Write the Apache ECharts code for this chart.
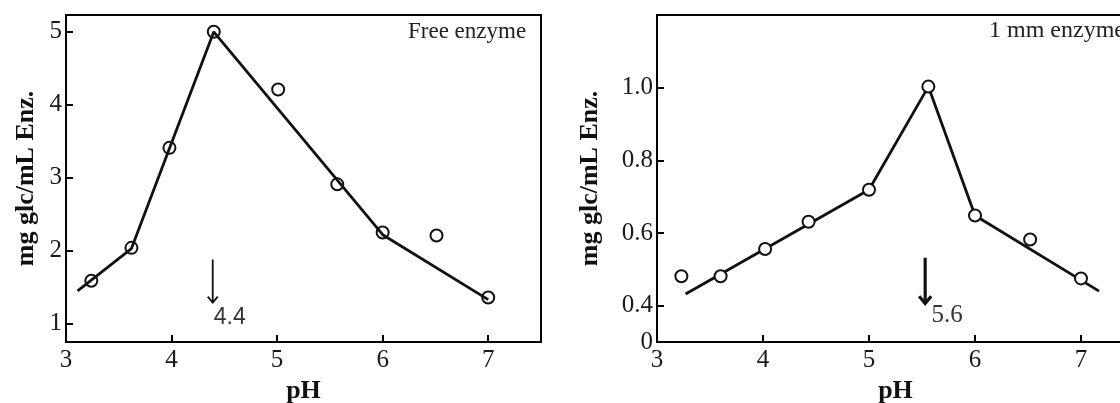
<!DOCTYPE html>
<html>
<head>
<meta charset="utf-8">
<script src="https://cdn.jsdelivr.net/npm/echarts@6/dist/echarts.min.js"></script>
<style>
  html, body { margin: 0; padding: 0; background: #fff; }
  #chart { width: 1120px; height: 403px; }
</style>
</head>
<body>
<div id="chart"></div>
<script>
// free enzyme (left panel)
const freePH = [3.24, 3.62, 3.98, 4.40, 5.01, 5.57, 6.00, 6.51, 7.00];
const freeAct = [1.59, 2.04, 3.41, 5.00, 4.21, 2.91, 2.25, 2.21, 1.36];
const freeFitPH = [3.11, 3.62, 4.40, 6.00, 7.00];
const freeFitAct = [1.45, 2.03, 5.00, 2.22, 1.33];
const freeOptimum = [4.39, 1.88, 1.29, 4.40, 1.08];
const freeOptimumText = '4.4';

// 1 mm immobilised enzyme (right panel)
const immPH = [3.23, 3.60, 4.02, 4.43, 5.00, 5.56, 6.00, 6.52, 7.00];
const immAct = [0.481, 0.481, 0.556, 0.631, 0.719, 1.003, 0.648, 0.582, 0.475];
const immFitPH = [3.27, 5.00, 5.56, 6.00, 7.17];
const immFitAct = [0.432, 0.719, 1.003, 0.648, 0.440];
const immOptimum = [5.53, 0.532, 0.406, 5.59, 0.372];
const immOptimumText = '5.6';

const xTicks = [3, 4, 5, 6, 7];
const freeYTicks = [1, 2, 3, 4, 5];
const immYTicks = [0.4, 0.6, 0.8, 1.0];
const immYLabels = [0.3, 0.4, 0.6, 0.8, 1.0];

const SERIF = '"Liberation Serif", "Times New Roman", serif';
const zip = (a, b) => a.map((v, i) => [v, b[i]]);

function xAxis(idx) {
  return {
    type: 'value', gridIndex: idx, min: 3, max: 7.5,
    name: 'pH', nameLocation: 'middle', nameGap: 34,
    nameTextStyle: { fontFamily: SERIF, fontWeight: 'bold', fontSize: 26, color: '#111' },
    axisLine: { lineStyle: { color: '#000', width: 2 } },
    axisTick: { inside: true, length: 7, lineStyle: { color: '#000', width: 2 }, customValues: xTicks },
    axisLabel: { fontFamily: SERIF, fontSize: 25, color: '#1a1a1a', margin: 6, customValues: xTicks },
    splitLine: { show: false }
  };
}

function yAxis(idx, min, max, ticks, labels, gap, fmt) {
  return {
    type: 'value', gridIndex: idx, min: min, max: max,
    name: 'mg glc/mL Enz.', nameLocation: 'middle', nameGap: gap, nameRotate: 90,
    nameTextStyle: { fontFamily: SERIF, fontWeight: 'bold', fontSize: 26, color: '#111' },
    axisLine: { lineStyle: { color: '#000', width: 2 } },
    axisTick: { inside: true, length: 7, lineStyle: { color: '#000', width: 2 }, customValues: ticks },
    axisLabel: { fontFamily: SERIF, fontSize: 25, color: '#1a1a1a', margin: 4, customValues: labels, formatter: fmt },
    splitLine: { show: false }
  };
}

function arrowSeries(idx, item, text, lw, head, font) {
  return {
    type: 'custom', xAxisIndex: idx, yAxisIndex: idx, z: 5,
    data: [item],
    renderItem: function (params, api) {
      const a = api.coord([api.value(0), api.value(1)]);
      const b = api.coord([api.value(0), api.value(2)]);
      const t = api.coord([api.value(3), api.value(4)]);
      return {
        type: 'group',
        children: [
          { type: 'line', shape: { x1: a[0], y1: a[1], x2: b[0], y2: b[1] },
            style: { stroke: '#111', lineWidth: lw } },
          { type: 'polyline',
            shape: { points: [[b[0] - head, b[1] - head * 1.2], [b[0], b[1]], [b[0] + head, b[1] - head * 1.2]] },
            style: { stroke: '#111', lineWidth: lw, fill: null } },
          { type: 'text', x: t[0], y: t[1],
            style: { text: text, font: font, fill: '#333', align: 'left', verticalAlign: 'middle' } }
        ]
      };
    }
  };
}

const chart = echarts.init(document.getElementById('chart'));
chart.setOption({
  animation: false,
  backgroundColor: '#fff',
  grid: [
    { left: 66, top: 15, width: 475, height: 327, outerBoundsMode: 'none', containLabel: false,
      show: true, borderColor: '#000', borderWidth: 2 },
    { left: 657, top: 15, width: 477, height: 327, outerBoundsMode: 'none', containLabel: false,
      show: true, borderColor: '#000', borderWidth: 2 }
  ],
  xAxis: [xAxis(0), xAxis(1)],
  yAxis: [
    yAxis(0, 0.75, 5.23, freeYTicks, freeYTicks, 27, v => String(v)),
    yAxis(1, 0.3, 1.2, immYTicks, immYLabels, 54, v => (v < 0.35 ? '0' : v.toFixed(1)))
  ],
  graphic: [
    { type: 'text', left: 408, top: 20, style: { text: 'Free enzyme', font: '23px ' + SERIF, fill: '#222' } },
    { type: 'text', left: 989, top: 19, style: { text: '1 mm enzyme', font: '24px ' + SERIF, fill: '#222' } }
  ],
  series: [
    { type: 'line', xAxisIndex: 0, yAxisIndex: 0, data: zip(freeFitPH, freeFitAct),
      showSymbol: false, lineStyle: { color: '#111', width: 2.8 }, z: 2 },
    { type: 'scatter', xAxisIndex: 0, yAxisIndex: 0, data: zip(freePH, freeAct),
      symbol: 'circle', symbolSize: 12,
      itemStyle: { color: 'rgba(0,0,0,0)', borderColor: '#111', borderWidth: 2, opacity: 1 }, z: 3 },
    arrowSeries(0, freeOptimum, freeOptimumText, 1.8, 5, '23px "Liberation Sans", Arial, sans-serif'),

    { type: 'line', xAxisIndex: 1, yAxisIndex: 1, data: zip(immFitPH, immFitAct),
      showSymbol: false, lineStyle: { color: '#111', width: 2.8 }, z: 2 },
    { type: 'scatter', xAxisIndex: 1, yAxisIndex: 1, data: zip(immPH, immAct),
      symbol: 'circle', symbolSize: 12,
      itemStyle: { color: '#fff', borderColor: '#111', borderWidth: 2, opacity: 1 }, z: 3 },
    arrowSeries(1, immOptimum, immOptimumText, 3.2, 6, '25px ' + SERIF)
  ]
});
</script>
</body>
</html>
